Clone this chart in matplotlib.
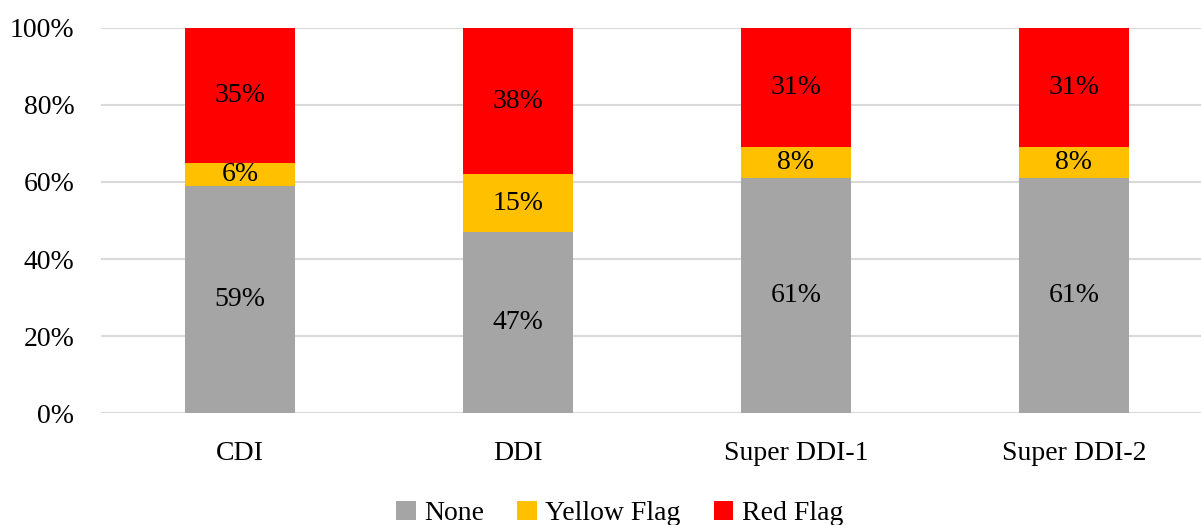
import matplotlib
matplotlib.use("Agg")
import matplotlib.pyplot as plt
import numpy as np

plt.rcParams['font.family'] = ['Liberation Serif', 'DejaVu Serif']

categorias = ["CDI", "DDI", "Super DDI-1", "Super DDI-2"]
none_vals = [59, 47, 61, 61]
yellow_vals = [6, 15, 8, 8]
red_vals = [35, 38, 31, 31]

series = [("None", none_vals, "#a5a5a5"),
          ("Yellow Flag", yellow_vals, "#ffc000"),
          ("Red Flag", red_vals, "#ff0000")]

fig = plt.figure(figsize=(12.01, 5.25), dpi=100)
ax = fig.add_axes([0.084, 0.2133, 0.916, 0.7334])

x = np.arange(len(categorias))
base = np.zeros(len(categorias))
for nombre, vals, color in series:
    vals = np.array(vals)
    ax.bar(x, vals, 0.396, bottom=base, color=color, label=nombre, zorder=3)
    for xi, b, v in zip(x, base, vals):
        ax.text(xi, b + v / 2, f"{v}%", ha="center", va="center", fontsize=20, zorder=4)
    base = base + vals

ax.set_ylim(0, 100)
ax.set_xlim(-0.5, -0.5 + 1100 / 278)
ax.set_yticks(range(0, 101, 20))
ax.set_yticklabels([f"{t}%" for t in range(0, 101, 20)], fontsize=20)
ax.set_xticks(x)
ax.set_xticklabels(categorias, fontsize=20)
ax.tick_params(axis="y", length=0, pad=19)
ax.tick_params(axis="x", length=0, pad=20)
ax.yaxis.grid(True, color="#d9d9d9", linewidth=1.5, zorder=0)
for s in ax.spines.values():
    s.set_visible(False)
ax.axhline(0, color="#d9d9d9", linewidth=1.5, zorder=1)

fig.legend(loc="lower center", bbox_to_anchor=(0.516, -0.05), ncol=3, frameon=False,
           fontsize=20, handlelength=0.7, handleheight=0.7, handletextpad=0.3,
           columnspacing=1.2)

fig.savefig("out.png", dpi=100)
